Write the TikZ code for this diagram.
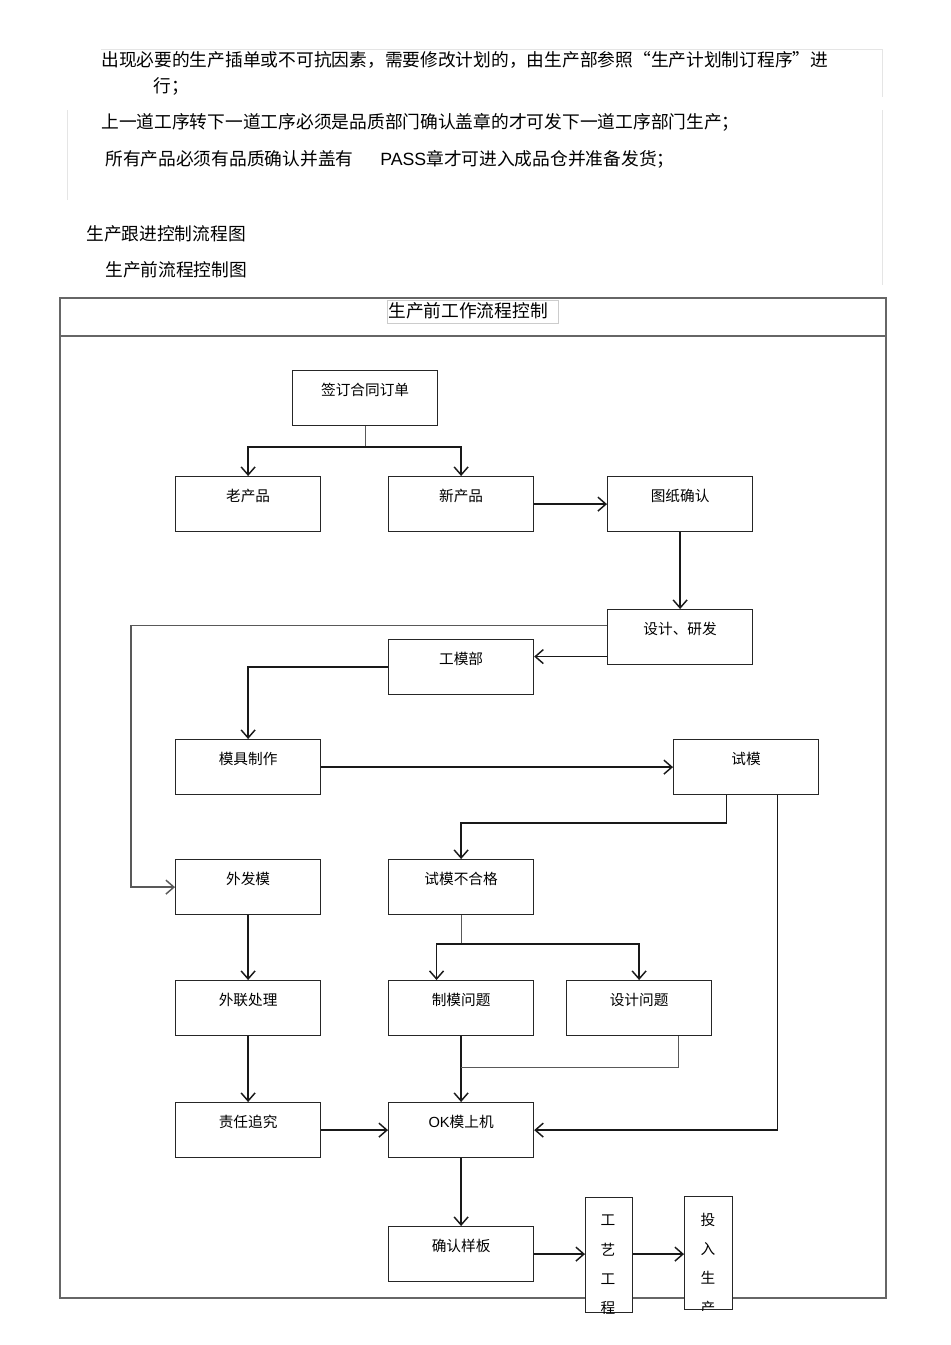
\documentclass[tikz,border=0pt]{standalone}
\usepackage{fontspec}
\setmainfont{Noto Sans CJK SC}
\newfontfamily\latfont{Liberation Sans}
\usetikzlibrary{arrows.meta,calc}
\begin{document}
\begin{tikzpicture}[x=0.75pt,y=-0.75pt,
  box/.style={draw=black!85, line width=0.9pt, fill=white, minimum width=108.75pt, minimum height=41.25pt, anchor=north west, inner sep=0pt},
  vbox/.style={draw=black!85, line width=0.9pt, fill=white, anchor=north west, inner sep=0pt},
  btxt/.style={anchor=center, yshift=-15pt, font=\fontsize{11}{13}\selectfont, inner sep=0pt},
  vtxt/.style={anchor=center, font=\fontsize{11}{13}\selectfont, inner sep=0pt},
  arr/.style={line width=1.1pt, draw=black!90, -{Straight Barb[length=6pt,width=10.5pt,line width=1.1pt]}},
  ln/.style={line width=0.9pt, draw=black!65},
  frame/.style={draw=black!60, line width=0.9pt},
  faint/.style={draw=black!10, line width=0.6pt},
  para/.style={anchor=west, font=\fontsize{13.3}{15}\selectfont, inner sep=0pt},
]
\useasboundingbox[fill=white] (0,0) rectangle (950,1345);

% faint page lines
\draw[faint] (101,49) -- (882,49) -- (882,97);
\draw[faint] (882,110) -- (882,285);
\draw[faint] (67,110) -- (67,200);

% top paragraphs
\node[para] (p1) at (101,60) {出现必要的生产插单或不可抗因素，需要修改计划的，由生产部参照“生产计划制订程序”进};
\node[para] (p2) at (153,86) {行；};
\node[para] (p3) at (101,122) {上一道工序转下一道工序必须是品质部门确认盖章的才可发下一道工序部门生产；};
\node[para] (p4a) at (105,159) {所有产品必须有品质确认并盖有};
\node[para] (p4b) at (380,159) {{\latfont PASS}章才可进入成品仓并准备发货；};
\node[para] (p5) at (86,234) {生产跟进控制流程图};
\node[para] (p6) at (105,270) {生产前流程控制图};

% frame
\draw[frame] (60,298) rectangle (886,1298);
\draw[frame] (60,336) -- (886,336);
\draw[faint, draw=black!20] (387,300) rectangle (558,323);
\node[para] (title) at (388,311) {生产前工作流程控制};

% boxes
\node[box, label={[btxt]north:签订合同订单}] (qd) at (292,370) {};
\node[box, label={[btxt]north:老产品}] (old) at (175,476) {};
\node[box, label={[btxt]north:新产品}] (new) at (388,476) {};
\node[box, label={[btxt]north:图纸确认}] (tz) at (607,476) {};
\node[box, label={[btxt]north:设计、研发}] (sj) at (607,609) {};
\node[box, label={[btxt]north:工模部}] (gmb) at (388,639) {};
\node[box, label={[btxt]north:模具制作}] (mj) at (175,739) {};
\node[box, label={[btxt]north:试模}] (sm) at (673,739) {};
\node[box, label={[btxt]north:外发模}] (wfm) at (175,859) {};
\node[box, label={[btxt]north:试模不合格}] (bhg) at (388,859) {};
\node[box, label={[btxt]north:外联处理}] (wl) at (175,980) {};
\node[box, label={[btxt]north:制模问题}] (zm) at (388,980) {};
\node[box, label={[btxt]north:设计问题}] (sjw) at (566,980) {};
\node[box, label={[btxt]north:责任追究}] (zr) at (175,1102) {};
\node[box, label={[btxt]north:{\latfont OK}模上机}] (ok) at (388,1102) {};
\node[box, label={[btxt]north:确认样板}] (qr) at (388,1226) {};
\node[vbox, minimum width=35.25pt, minimum height=86.25pt] (gy) at (585,1197) {};
\node[vbox, minimum width=36pt, minimum height=84.75pt] (tr) at (684,1196) {};

\begin{scope}
  \clip (gy.north west) rectangle (gy.south east);
  \node[vtxt] (gy1) at (608,1220) {工};
  \node[vtxt] (gy2) at (608,1250) {艺};
  \node[vtxt] (gy3) at (608,1279) {工};
  \node[vtxt] (gy4) at (608,1308) {程};
\end{scope}
\begin{scope}
  \clip (tr.north west) rectangle (tr.south east);
  \node[vtxt] (tr1) at (708,1220) {投};
  \node[vtxt] (tr2) at (708,1249) {入};
  \node[vtxt] (tr3) at (708,1278) {生};
  \node[vtxt] (tr4) at (708,1308) {产};
\end{scope}

% connectors
\draw[ln] (qd.south) -- ++(0,21) coordinate (j1);
\draw[arr] (j1) -| (old.north);
\draw[arr] (j1) -| (new.north);
\draw[arr] (new.east) -- (tz.west);
\draw[arr] (tz.south) -- (sj.north);

\coordinate (s1) at ([yshift=8.6pt]sj.west);
\draw[arr, draw=black!65] (s1) -- ++(-476,0) |- (wfm.west);
\coordinate (s2) at ([yshift=-14.6pt]sj.west);
\draw[arr] (s2) -- (s2 -| gmb.east);
\draw[arr] (gmb.west) -| (mj.north);
\draw[arr] (mj.east) -- (sm.west);

\coordinate (s3) at ([xshift=-14.6pt]sm.south);
\draw[arr] (s3) -- ++(0,28) -| (bhg.north);
\coordinate (s4) at ([xshift=23.6pt]sm.south);
\draw[arr] (s4) |- (ok.east);

\draw[arr] (wfm.south) -- (wl.north);
\draw[ln] (bhg.south) -- ++(0,29) coordinate (j2);
\draw[arr] (j2) -| ([xshift=-18.4pt]zm.north);
\draw[arr] (j2) -| (sjw.north);

\draw[arr] (wl.south) -- (zr.north);
\draw[arr] (zm.south) -- (ok.north);
\coordinate (s5) at ([xshift=29.6pt]sjw.south);
\coordinate (j3) at ($(zm.south)!0.47!(ok.north)$);
\draw[ln] (s5) |- (j3);

\draw[arr] (zr.east) -- (ok.west);
\draw[arr] (ok.south) -- (qr.north);
\draw[arr] (qr.east) -- (qr.east -| gy.west);
\coordinate (s6) at (gy.east |- qr.east);
\draw[arr] (s6) -- (s6 -| tr.west);
\end{tikzpicture}
\end{document}
